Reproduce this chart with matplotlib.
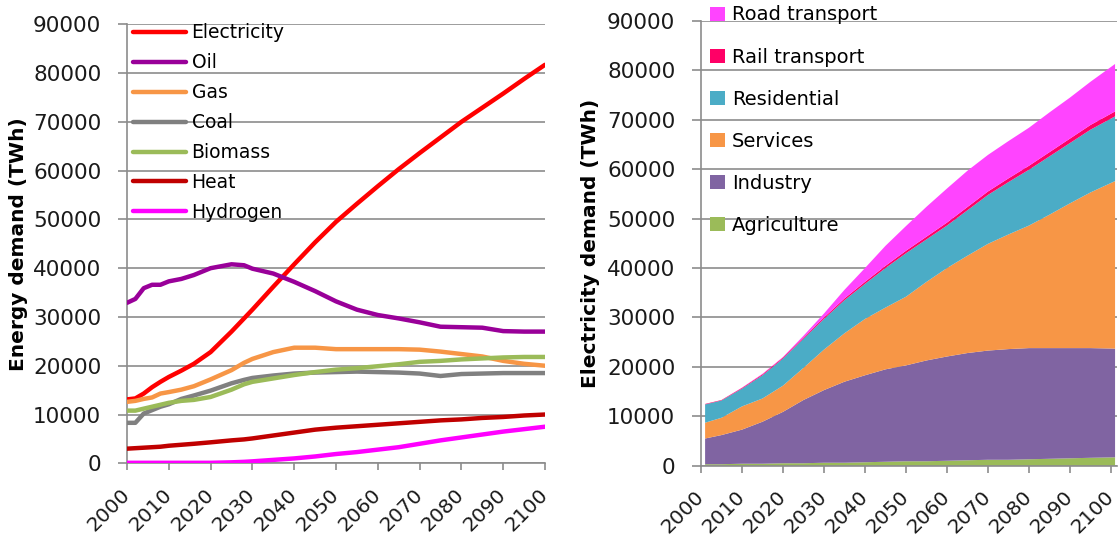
import matplotlib
matplotlib.use("Agg")
import matplotlib.pyplot as plt
from matplotlib.patches import Patch
from matplotlib.lines import Line2D

plt.rcParams['font.family'] = ['DejaVu Sans']

# ---------------- Left panel data: final energy demand by carrier (TWh) -------------
years_left = [2000, 2002, 2004, 2006, 2008, 2010, 2013, 2016, 2020, 2025, 2028, 2030, 2035,
              2040, 2045, 2050, 2055, 2060, 2065, 2070, 2075, 2080, 2085, 2090, 2095, 2100]
electricity = [13100, 13300, 14300, 15600, 16700, 17700, 19000, 20400, 22800, 27000, 29700, 31500,
               36200, 40800, 45300, 49500, 53200, 56800, 60300, 63600, 66800, 70000, 72900, 75800,
               78800, 81700]
oil = [32900, 33700, 35900, 36600, 36600, 37300, 37800, 38600, 40000, 40800, 40600, 39900, 38900,
       37200, 35300, 33200, 31500, 30400, 29700, 28900, 28000, 27900, 27800, 27100, 27000, 27000]
gas = [12600, 12800, 13200, 13500, 14300, 14600, 15100, 15800, 17200, 19100, 20600, 21400, 22800,
       23700, 23700, 23400, 23400, 23400, 23400, 23300, 22900, 22400, 21900, 21000, 20400, 20000]
coal = [8300, 8300, 10200, 10900, 11600, 12100, 13200, 13900, 14900, 16400, 17100, 17500, 18000,
        18400, 18600, 18700, 18800, 18700, 18600, 18400, 17900, 18300, 18400, 18500, 18500, 18500]
biomass = [10800, 10800, 11200, 11600, 12000, 12400, 12800, 13000, 13600, 15100, 16200, 16700, 17400,
           18100, 18700, 19200, 19500, 19900, 20300, 20800, 21000, 21300, 21500, 21700, 21800, 21800]
heat = [3000, 3100, 3200, 3300, 3400, 3600, 3800, 4000, 4300, 4700, 4900, 5100, 5700,
        6300, 6900, 7300, 7600, 7900, 8200, 8500, 8800, 9000, 9300, 9500, 9800, 10000]
hydrogen = [100, 100, 100, 100, 100, 100, 100, 100, 100, 200, 300, 400, 700,
            1000, 1400, 1900, 2300, 2800, 3300, 4000, 4700, 5300, 5900, 6500, 7000, 7500]

left_names = ["Electricity", "Oil", "Gas", "Coal", "Biomass", "Heat", "Hydrogen"]
left_colors = ["#FF0000", "#990099", "#F79646", "#808080", "#9BBB59", "#C00000", "#FF00FF"]

# ---------------- Right panel data: electricity demand by sector (TWh) ----------------
years_right = [2001, 2005, 2010, 2015, 2020, 2025, 2030, 2035, 2040, 2045, 2050,
               2055, 2060, 2065, 2070, 2075, 2080, 2085, 2090, 2095, 2101]
agriculture = [300, 300, 400, 400, 500, 500, 600, 600, 700, 800, 900,
               900, 1000, 1100, 1200, 1200, 1300, 1400, 1500, 1600, 1700]
industry = [5200, 5900, 6900, 8500, 10400, 12800, 14700, 16400, 17600, 18700, 19400,
            20400, 21100, 21700, 22100, 22400, 22500, 22400, 22300, 22200, 22000]
services = [3200, 3500, 4700, 4700, 5300, 6500, 8200, 9800, 11400, 12500, 13900,
            15900, 17900, 19700, 21600, 23200, 24800, 27000, 29300, 31500, 33900]
residential = [3700, 3500, 3600, 4700, 5500, 5900, 6200, 6700, 7100, 8000, 8800,
               8600, 8600, 9200, 9900, 10600, 11300, 11800, 12200, 12700, 13100]
rail = [100, 100, 150, 200, 200, 250, 300, 350, 400, 450, 500,
        550, 600, 650, 700, 750, 800, 850, 900, 950, 1000]
road = [0, 0, 50, 100, 100, 350, 800, 1750, 2800, 4050, 5000,
        6050, 6900, 7350, 7400, 7550, 7700, 8050, 8300, 8750, 9600]

right_names = ["Agriculture", "Industry", "Services", "Residential", "Rail transport", "Road transport"]
right_colors = ["#9BBB59", "#8064A2", "#F79646", "#4BACC6", "#FF0066", "#FF44FF"]

yticks = [0, 10000, 20000, 30000, 40000, 50000, 60000, 70000, 80000, 90000]
xticks = [2000, 2010, 2020, 2030, 2040, 2050, 2060, 2070, 2080, 2090, 2100]

GRID = "#8C8C8C"
TICKFS = 15.5
XTICKFS = 14.5

fig = plt.figure(figsize=(11.18, 5.41), dpi=100)
axL = fig.add_axes([127 / 1118, (541 - 463.3) / 541, 418 / 1118, 439 / 541])
axR = fig.add_axes([701 / 1118, (541 - 465.7) / 541, 415.7 / 1118, 444.7 / 541])


def style_axes(ax, xmax):
    ax.set_ylim(0, 90000)
    ax.set_xlim(2000, xmax)
    ax.set_yticks(yticks)
    ax.set_yticklabels([str(v) for v in yticks], fontsize=TICKFS, color="#1a1a1a")
    ax.set_xticks(xticks)
    ax.set_xticklabels([str(v) for v in xticks], fontsize=XTICKFS, color="#1a1a1a",
                       rotation=45, ha="right", va="center", rotation_mode="anchor")
    ax.yaxis.grid(True, color=GRID, linewidth=1.2)
    ax.set_axisbelow(True)
    for s in ["top", "right"]:
        ax.spines[s].set_visible(False)
    for s in ["left", "bottom"]:
        ax.spines[s].set_color(GRID)
        ax.spines[s].set_linewidth(1.2)
    ax.tick_params(axis="y", length=6.5, width=1.2, color=GRID, pad=12)
    ax.tick_params(axis="x", length=5.3, width=1.2, color=GRID, pad=15)


# Left: lines
left_series = [electricity, oil, gas, coal, biomass, heat, hydrogen]
handles = []
for name, col, vals in zip(left_names, left_colors, left_series):
    axL.plot(years_left, vals, color=col, linewidth=3.2, solid_capstyle="round",
             solid_joinstyle="round", zorder=3)
    handles.append(Line2D([0], [0], color=col, linewidth=3.2, solid_capstyle="round"))
style_axes(axL, 2100)
axL.set_ylabel("Energy demand (TWh)", fontsize=14.5, fontweight="bold")
axL.yaxis.set_label_coords(-0.236, 0.5)
legL = axL.legend(handles, left_names, loc="upper left", bbox_to_anchor=(0.0144, 1.0025),
                  frameon=False, fontsize=13.5, handlelength=2.8, handletextpad=0.32,
                  labelspacing=0.585, borderpad=0, borderaxespad=0)

# Right: stacked area
right_series = [agriculture, industry, services, residential, rail, road]
axR.stackplot(years_right, *right_series, colors=right_colors, linewidth=0, zorder=2)
style_axes(axR, 2101.4)
axR.set_ylabel("Electricity demand (TWh)", fontsize=14.5, fontweight="bold")
axR.yaxis.set_label_coords(-0.244, 0.5)
patches = [Patch(facecolor=c, edgecolor="none") for c in right_colors][::-1]
legR = axR.legend(patches, right_names[::-1], loc="upper left", bbox_to_anchor=(0.0217, 1.035),
                  frameon=False, fontsize=14, handlelength=0.77, handleheight=0.74,
                  handletextpad=0.35, labelspacing=1.19, borderpad=0, borderaxespad=0)

fig.savefig("out.png", dpi=100)
